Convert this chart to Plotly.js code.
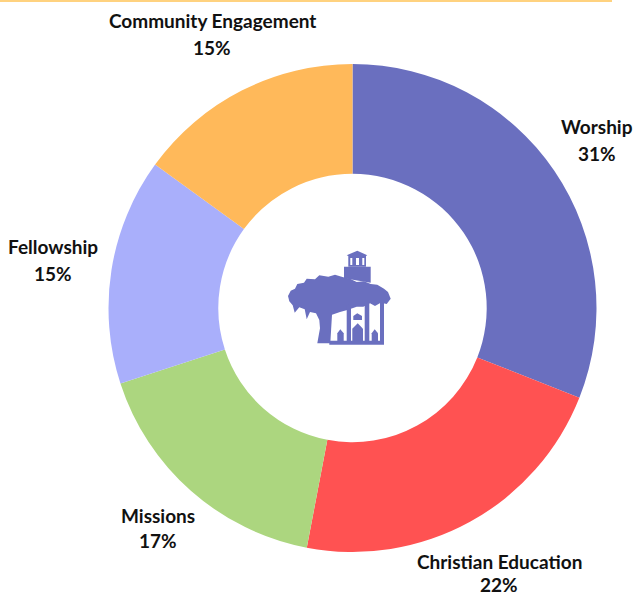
<!DOCTYPE html>
<html>
<head>
<meta charset="utf-8">
<script src="https://cdn.plot.ly/plotly-3.0.1.min.js"></script>
<style>html,body{margin:0;padding:0;background:#fff;overflow:hidden}#chart{width:635px;height:593px}</style>
</head>
<body>
<div id="chart"></div>
<script>
const categories = ["Worship", "Christian Education", "Missions", "Fellowship", "Community Engagement"];
const shares = [31, 22, 17, 15, 15];
const sliceColors = ["#6A6FBF", "#FF5252", "#ACD67F", "#A9AFFB", "#FFB95A"];
const labelX = [597, 499, 158, 53, 212];
const nameY = [126, 561, 515, 246, 20];
const percentY = [153, 584, 540, 273, 47];

const W = 635, H = 593;
const logoBlue = "#6A6FBF";
// logo outline (zoomed crop units)
const logoSolid = [
  [[84,198],[92,182],[105,176],[112,162],[132,158],[140,146],[165,148],[178,136],[205,140],[225,134],[250,142],[270,146],[290,156],[312,154],[332,162],[352,164],[372,176],[384,186],[392,206],[380,222],[362,218],[345,228],[330,220],[310,230],[290,230],[262,240],[240,246],[216,254],[211,340],[172,340],[180,295],[178,270],[168,250],[150,246],[140,268],[134,238],[118,232],[104,248],[98,226],[88,214]],
  [[252,110],[332,110],[332,158],[252,145]],
  [[265,78],[260,76],[292,62],[322,76],[318,78],[318,110],[265,110]],
  [[260,225],[273,222],[273,340],[260,340]],
  [[314,220],[328,218],[328,340],[314,340]],
  [[360,212],[372,212],[372,340],[360,340]],
  [[208,332],[372,332],[372,344],[208,344]],
  [[277,335],[277,296],[293,280],[309,296],[309,335]],
  [[232,335],[232,310],[241,298],[251,310],[251,335]],
  [[335,335],[335,310],[344,298],[354,310],[354,335]],
  [[280,270],[280,258],[292,250],[306,258],[306,270]]
];
const logoWhite = [
  [[271,84],[277,84],[277,105],[271,105]],
  [[288,84],[297,84],[297,105],[288,105]],
  [[307,84],[313,84],[313,105],[307,105]]
];
const toPath = pts => pts.map((p, i) =>
  (i ? "L" : "M") + (260 + p[0] / 3).toFixed(1) + "," + (230 + p[1] / 3).toFixed(1)).join(" ") + " Z";
const logoShape = (pts, c) => ({type: "path", xref: "x", yref: "y", layer: "above", path: toPath(pts), fillcolor: c, line: {width: 0}});

const shapes = logoSolid.map(p => logoShape(p, logoBlue)).concat(logoWhite.map(p => logoShape(p, "#ffffff")));
shapes.push({type: "rect", xref: "x", yref: "y", layer: "above", x0: 0, x1: 612, y0: 0, y1: 2, fillcolor: "#FFD27F", line: {width: 0}});

const labelFont = {family: "Lato, 'Open Sans', sans-serif", size: 19, color: "#111111", weight: 700};
const annotations = [];
categories.forEach((c, i) => {
  annotations.push({xref: "x", yref: "y", x: labelX[i], y: nameY[i], text: "<b>" + c + "</b>", showarrow: false, font: labelFont, xanchor: "center", yanchor: "middle"});
  annotations.push({xref: "x", yref: "y", x: labelX[i], y: percentY[i], text: "<b>" + shares[i] + "%</b>", showarrow: false, font: labelFont, xanchor: "center", yanchor: "middle"});
});

Plotly.newPlot("chart", [{
  type: "pie",
  values: shares,
  labels: categories,
  hole: 0.55,
  sort: false,
  direction: "clockwise",
  rotation: 0,
  textinfo: "none",
  marker: {colors: sliceColors, line: {width: 0}},
  domain: {x: [108.5 / W, 596.5 / W], y: [1 - 552 / H, 1 - 64 / H]},
  automargin: false
}], {
  width: W, height: H,
  margin: {l: 0, r: 0, t: 0, b: 0},
  showlegend: false,
  paper_bgcolor: "#ffffff",
  plot_bgcolor: "rgba(0,0,0,0)",
  xaxis: {visible: false, range: [0, W], fixedrange: true},
  yaxis: {visible: false, range: [H, 0], fixedrange: true},
  shapes: shapes,
  annotations: annotations
}, {displayModeBar: false, staticPlot: true});
</script>
</body>
</html>
